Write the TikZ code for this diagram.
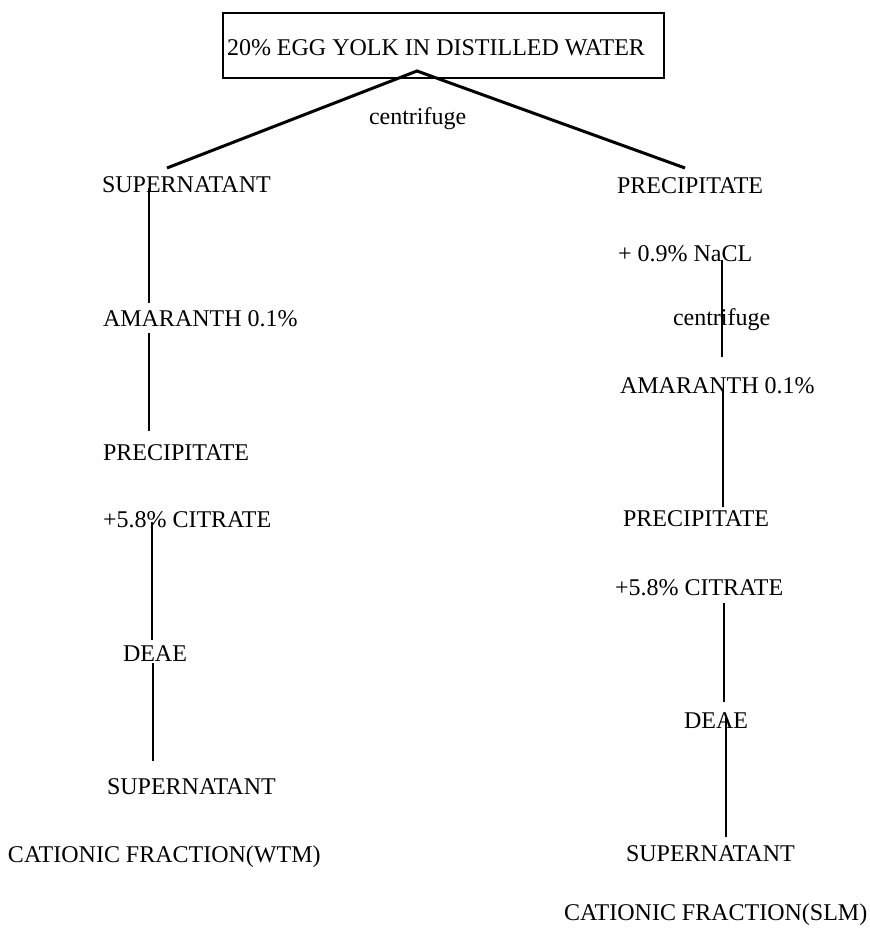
\documentclass[tikz,border=0pt]{standalone}
\usepackage{fontspec}
\setmainfont{Liberation Serif}
\begin{document}
\begin{tikzpicture}[x=0.5pt,y=-0.5pt,
  lbl/.style={anchor=base west,inner sep=0pt,outer sep=0pt,font=\fontsize{12pt}{14pt}\selectfont},
  conn/.style={line width=1pt},
  diag/.style={line width=1.5pt},
  boxstyle/.style={draw,line width=1pt,inner sep=0pt,minimum width=220.5pt,minimum height=32.5pt}]
\useasboundingbox (0,0) rectangle (870,930);
% top box
\node[boxstyle] (box) at (443.5,45.5) {};
\node[lbl] (title) at (227,56) {20\% EGG YOLK IN DISTILLED WATER};
\node[lbl] (cent1) at (369,125) {centrifuge};
% left column
\node[lbl] (sup1) at (102,193) {SUPERNATANT};
\node[lbl] (amar1) at (103,327) {AMARANTH 0.1\%};
\node[lbl] (prec1) at (103,460) {PRECIPITATE};
\node[lbl] (cit1) at (103,527) {+5.8\% CITRATE};
\node[lbl] (deae1) at (123,661) {DEAE};
\node[lbl] (sup2) at (107,794) {SUPERNATANT};
\node[lbl] (cat1) at (8,862) {CATIONIC FRACTION(WTM)};
% right column
\node[lbl] (prec2) at (617,194) {PRECIPITATE};
\node[lbl] (nacl) at (618,262) {+ 0.9\% NaCL};
\node[lbl] (cent2) at (673,326) {centrifuge};
\node[lbl] (amar2) at (620,393) {AMARANTH 0.1\%};
\node[lbl] (prec3) at (623,526) {PRECIPITATE};
\node[lbl] (cit2) at (615,595) {+5.8\% CITRATE};
\node[lbl] (deae2) at (684,728.5) {DEAE};
\node[lbl] (sup3) at (626,861) {SUPERNATANT};
\node[lbl] (cat2) at (564,920) {CATIONIC FRACTION(SLM)};
% connector end points
\coordinate (apex) at (417,71);
\coordinate (dl) at (167,168);
\coordinate (dr) at (685,168);
\coordinate (a1) at (149,188);  \coordinate (a2) at (149,303);
\coordinate (b1) at (149,333);  \coordinate (b2) at (149,431);
\coordinate (c1) at (152,522);  \coordinate (c2) at (152,640);
\coordinate (d1) at (153,663);  \coordinate (d2) at (153,761);
\coordinate (e1) at (722,260);  \coordinate (e2) at (722,357);
\coordinate (f1) at (723,390);  \coordinate (f2) at (723,507);
\coordinate (g1) at (724,603);  \coordinate (g2) at (724,702);
\coordinate (h1) at (726,718);  \coordinate (h2) at (726,837);
% connectors
\draw[diag] (dl) -- (apex) -- (dr);
\draw[conn] (a1) -- (a2);
\draw[conn] (b1) -- (b2);
\draw[conn] (c1) -- (c2);
\draw[conn] (d1) -- (d2);
\draw[conn] (e1) -- (e2);
\draw[conn] (f1) -- (f2);
\draw[conn] (g1) -- (g2);
\draw[conn] (h1) -- (h2);
\end{tikzpicture}
\end{document}
